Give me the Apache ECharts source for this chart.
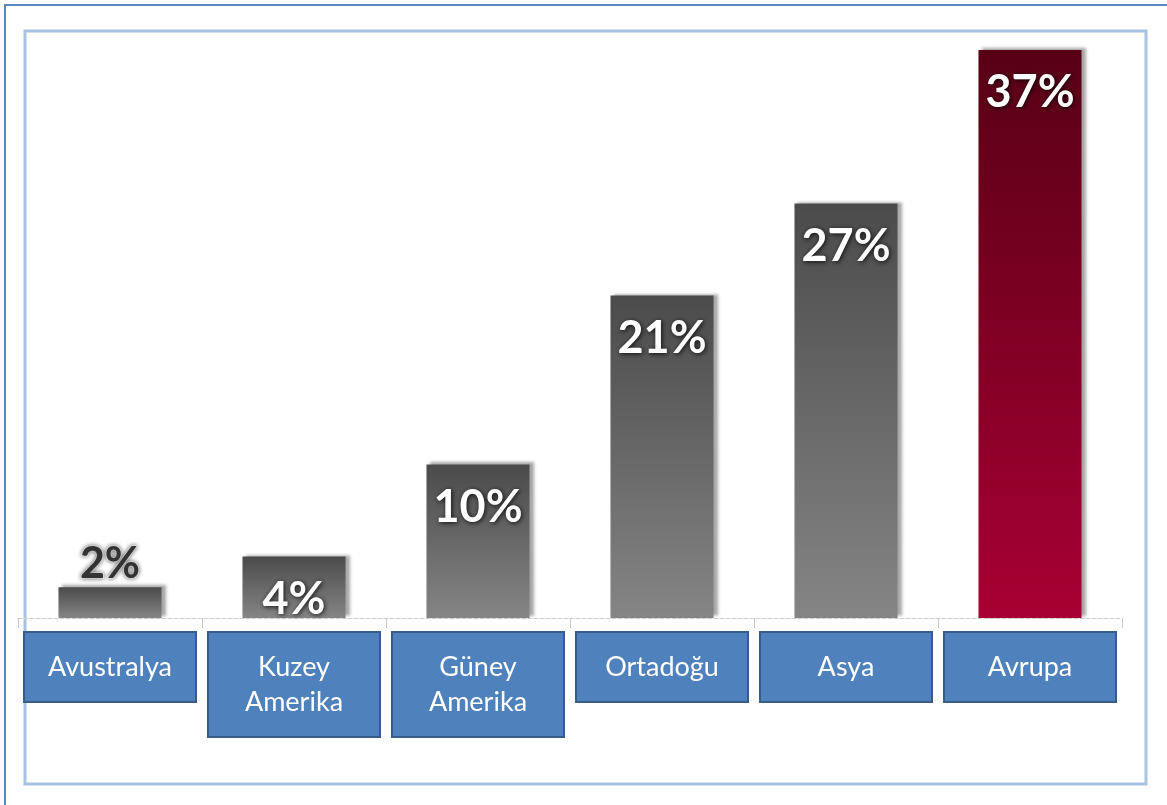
<!DOCTYPE html>
<html>
<head>
<meta charset="utf-8">
<script src="https://cdn.jsdelivr.net/npm/echarts@6/dist/echarts.min.js"></script>
<style>
  html, body { margin: 0; padding: 0; background: #ffffff; }
  #chart { width: 1167px; height: 805px; }
</style>
</head>
<body>
<div id="chart"></div>
<script>
// Regions and their share (%)
const categories = ['Avustralya', 'Kuzey\nAmerika', 'Güney\nAmerika', 'Ortadoğu', 'Asya', 'Avrupa'];
const shares = [2, 4, 10, 21, 27, 37];

const grayFill = new echarts.graphic.LinearGradient(0, 0, 0, 1, [
  { offset: 0, color: '#4b4b4b' },
  { offset: 1, color: '#858585' }
]);
const redFill = new echarts.graphic.LinearGradient(0, 0, 0, 1, [
  { offset: 0, color: '#580016' },
  { offset: 1, color: '#a80032' }
]);

const whiteLabel = {
  show: true,
  position: 'insideTop',
  distance: 20,
  formatter: '{c}%',
  color: '#ffffff',
  fontFamily: 'Lato, "Open Sans", sans-serif',
  fontWeight: 'bold',
  fontSize: 45,
  textShadowColor: 'rgba(0,0,0,0.85)',
  textShadowBlur: 5,
  textShadowOffsetX: 1,
  textShadowOffsetY: 1
};
const darkLabel = {
  show: true,
  position: 'top',
  distance: 2,
  formatter: '{c}%',
  color: '#333333',
  fontFamily: 'Lato, "Open Sans", sans-serif',
  fontWeight: 'bold',
  fontSize: 43,
  textBorderColor: 'rgba(255,255,255,0.9)',
  textBorderWidth: 2,
  textShadowColor: 'rgba(0,0,0,0.5)',
  textShadowBlur: 4
};

const barData = shares.map((v, i) => ({
  value: v,
  itemStyle: { color: i === shares.length - 1 ? redFill : grayFill },
  label: v < 3 ? darkLabel : whiteLabel
}));

const chart = echarts.init(document.getElementById('chart'), null, { renderer: 'canvas' });
chart.setOption({
  animation: false,
  backgroundColor: '#ffffff',
  graphic: [
    {
      type: 'rect',
      shape: { x: 5, y: 5, width: 1300, height: 900 },
      style: { fill: 'none', stroke: '#5a87c2', lineWidth: 2 },
      silent: true
    },
    {
      type: 'rect',
      shape: { x: 25, y: 31, width: 1121, height: 753 },
      style: { fill: 'none', stroke: '#a9c2e2', lineWidth: 3 },
      silent: true
    }
  ],
  grid: { left: 18, right: 45, top: 50, bottom: 187 },
  xAxis: {
    type: 'category',
    data: categories,
    axisLine: { lineStyle: { color: '#cfcfcf', type: 'dashed', width: 1 } },
    axisTick: { show: true, length: 10, lineStyle: { color: '#c8c8c8' } },
    axisLabel: {
      interval: 0,
      margin: 15,
      color: '#ffffff',
      fontFamily: 'Lato, "Open Sans", sans-serif',
      fontSize: 27,
      lineHeight: 35,
      width: 170,
      align: 'center',
      verticalAlign: 'top',
      backgroundColor: '#4f81bd',
      borderColor: '#385d8a',
      borderWidth: 2,
      padding: [17, 0, 16, 0]
    }
  },
  yAxis: {
    type: 'value',
    min: 0,
    max: 37,
    show: false,
    splitLine: { show: false }
  },
  series: [
    {
      type: 'bar',
      data: barData,
      barWidth: '56%',
      itemStyle: {
        shadowColor: 'rgba(0,0,0,0.35)',
        shadowBlur: 3,
        shadowOffsetX: 4,
        shadowOffsetY: -2
      }
    }
  ]
});
</script>
</body>
</html>
